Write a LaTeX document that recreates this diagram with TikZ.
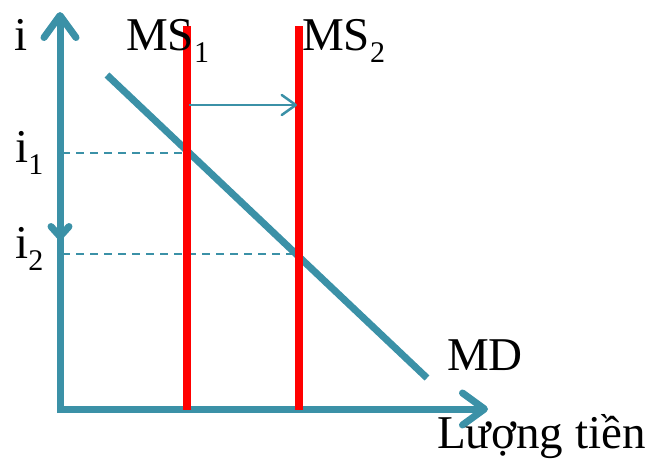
\documentclass[tikz,border=0pt]{standalone}
\usepackage{fontspec}
\setmainfont{Liberation Serif}
\usetikzlibrary{arrows.meta}
\definecolor{axisteal}{RGB}{59,145,167}
\definecolor{msred}{RGB}{255,0,0}
\tikzset{
  axisline/.style={draw=axisteal,line width=7pt,line cap=butt},
  bigtip/.style={-{Straight Barb[length=22pt,width=32pt,round]}},
  msline/.style={draw=msred,line width=7.5pt},
  guide/.style={draw=axisteal,line width=2pt,dash pattern=on 8pt off 6pt},
  shiftarrow/.style={draw=axisteal,line width=2.5pt,-{Straight Barb[length=14pt,width=20pt,round]}},
  lbl/.style={inner sep=0pt,anchor=base west,font=\fontsize{47}{50}\selectfont},
}
\newcommand{\sublow}[1]{\raisebox{-12pt}{\fontsize{30}{30}\selectfont #1}}
\begin{document}
\begin{tikzpicture}[x=1pt,y=-1pt]
\useasboundingbox (0,0) rectangle (650,458);
% coordinates
\coordinate (O) at (60,410);
\coordinate (Ytop) at (60,12);
\coordinate (Xend) at (488,409);
\coordinate (Ydn1) at (60,200);
\coordinate (Ydn2) at (60,240);
\coordinate (MDa) at (107,75);
\coordinate (MDb) at (427,378);
\coordinate (MS1t) at (187,26);
\coordinate (MS1b) at (187,410);
\coordinate (MS2t) at (299,26);
\coordinate (MS2b) at (299,410);
\coordinate (A1) at (189,105);
\coordinate (A2) at (297,105);
\coordinate (Y1) at (62,153);
\coordinate (P1) at (187,153);
\coordinate (Y2) at (62,254);
\coordinate (P2) at (299,254);
% axes
\draw[axisline,bigtip] (60,413) -- (Ytop);
\draw[axisline,bigtip] (57,409) -- (Xend);
\draw[axisline,-{Straight Barb[length=10pt,width=18pt,round]}] (Ydn1) -- (Ydn2);
% guides
\draw[guide] (Y1) -- (P1);
\draw[guide] (Y2) -- (P2);
% MD
\draw[axisline] (MDa) -- (MDb);
% MS lines
\draw[msline] (MS1t) -- (MS1b);
\draw[msline] (MS2t) -- (MS2b);
% shift arrow
\draw[shiftarrow] (A1) -- (A2);
% labels
\node[lbl] (li) at (14,50) {i};
\node[lbl] (lms1) at (126,50) {MS\sublow{1}};
\node[lbl] (lms2) at (302,50) {MS\sublow{2}};
\node[lbl] (li1) at (15,162) {i\sublow{1}};
\node[lbl] (li2) at (15,258) {i\sublow{2}};
\node[lbl] (lmd) at (447,370) {MD};
\node[lbl] (lq) at (437,448) {Lượng tiền};
\end{tikzpicture}
\end{document}
